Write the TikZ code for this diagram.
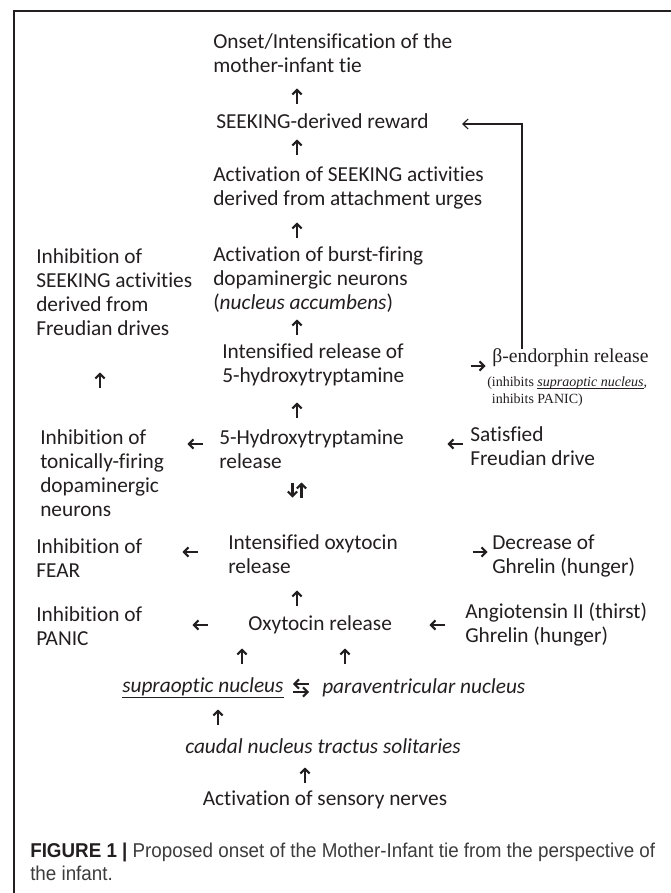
\documentclass[tikz,border=0pt]{standalone}
\usepackage{fontspec}
\setmainfont{Carlito}[Ligatures={NoCommon}]
\newfontfamily\timesf{Liberation Serif}
\newfontfamily\capf[FakeStretch=0.94]{Liberation Sans}
\usetikzlibrary{arrows.meta}
\definecolor{ink}{HTML}{231F20}
\definecolor{capink}{HTML}{3C3C3C}
\newcommand\myul[2][1.6pt]{\setbox0\hbox{#2}\rlap{\raisebox{-#1}{\rule{\wd0}{0.55pt}}}\box0}
\begin{document}
\begin{tikzpicture}[x=0.75pt,y=-0.75pt,
  txt/.style={font=\fontsize{16}{18}\selectfont, text=ink, inner sep=0pt, align=left, anchor=west},
  arr/.style={-{Straight Barb[length=3.4pt,width=7pt]}, line width=1.55pt, draw=ink},
  fbline/.style={-{Straight Barb[length=4pt,width=7.5pt]}, line width=0.85pt, draw=ink}]
\useasboundingbox (0,0) rectangle (671,893);
\fill[white] (0,0) rectangle (671,893);
\draw[line width=1pt, ink] (14,893) -- (14,11) -- (671,11);

% main column
\node[txt] (tie) at (213,53.5) {Onset/Intensification of the\\mother-infant tie};
\node[txt] (reward) at (216,121) {SEEKING-derived reward};
\node[txt] (actseek) at (213,188) {Activation of SEEKING activities\\derived from attachment urges};
\node[txt] (burst) at (213,280) {Activation of burst-firing\\dopaminergic neurons\\(\textit{nucleus accumbens})};
\node[txt] (int5ht) at (222,364.5) {Intensified release of\\5-hydroxytryptamine};
\node[txt] (fiveht) at (219,449) {5-Hydroxytryptamine\\release};
\node[txt] (intoxy) at (228,554) {Intensified oxytocin\\release};
\node[txt] (oxy) at (248,625) {Oxytocin release};
\node[txt, font=\fontsize{16}{18}\selectfont\itshape] (supra) at (122,688) {\myul[4.2pt]{supraoptic nucleus}};
\node[txt, font=\fontsize{16}{18}\selectfont\itshape] (para) at (322,688) {paraventricular nucleus};
\node[txt, font=\fontsize{16}{18}\selectfont\itshape, anchor=center] (caudal) at (323,746) {caudal nucleus tractus solitaries};
\node[txt, anchor=center] (sensory) at (325,800) {Activation of sensory nerves};

% left column
\node[txt] (leftseek) at (36,292.5) {Inhibition of\\SEEKING activities\\derived from\\Freudian drives};
\node[txt] (tonic) at (40,473.5) {Inhibition of\\tonically-firing\\dopaminergic\\neurons};
\node[txt] (fear) at (36,558) {Inhibition of\\FEAR};
\node[txt] (panic) at (36,626.5) {Inhibition of\\PANIC};

% right column
\node[txt, font=\fontsize{14.8}{17}\timesf] (beta) at (492,358) {β-endorphin release};
\node[txt, font=\fontsize{10.5}{13}\timesf] (betanote) at (487,391.5) {(inhibits \myul{\textit{supraoptic nucleus}},\\\hspace*{3.5pt}inhibits PANIC)};
\node[txt] (satisfied) at (470,446) {Satisfied\\Freudian drive};
\node[txt] (ghrdec) at (492,556) {Decrease of\\Ghrelin (hunger)};
\node[txt] (angio) at (465,624.5) {Angiotensin II (thirst)\\Ghrelin (hunger)};

% caption
\node[inner sep=0pt, anchor=west, align=left, text=capink,
  font=\fontsize{15}{17.3}\capf] (caption) at (30,861.5)
  {{\color{ink}\bfseries FIGURE 1 |} Proposed onset of the Mother-Infant tie from the perspective of\\the infant.};

% short arrows: vertical (up)
\foreach \n/\x/\y in {a1/297/96, a2/297/147, a3/297/230, a4/297/327, a5/297/410,
                      a6/100/380, a7/297/598, a8/242/656, a9/345/656, a10/218/717, a11/305/775}{
  \coordinate (\n) at (\x,\y);
  \draw[arr] (\n) ++(0,7.5) -- ++(0,-15);
}
% down/up pair
\coordinate (du) at (297,490);
\draw[arr] (du) ++(-4.5,-7.5) -- ++(0,15);
\draw[arr] (du) ++(4.5,7.5) -- ++(0,-15);
% left arrows
\foreach \n/\x/\y in {l1/195/444, l2/455/444, l3/190/552, l4/200/625, l5/437/625}{
  \coordinate (\n) at (\x,\y);
  \draw[arr] (\n) ++(7.5,0) -- ++(-15,0);
}
% right arrows
\foreach \n/\x/\y in {r1/478/366, r2/480/552}{
  \coordinate (\n) at (\x,\y);
  \draw[arr] (\n) ++(-7.5,0) -- ++(15,0);
}
% exchange arrows between supraoptic and paraventricular
\coordinate (ex) at (301,688);
\draw[arr] (ex) ++(8,-4) -- ++(-16,0);
\draw[arr] (ex) ++(-8,4) -- ++(16,0);

% feedback connector from beta-endorphin to reward
\coordinate (fb) at (522,124);
\draw[fbline] (beta.north -| fb) -- (fb) -- (462,124);
\end{tikzpicture}
\end{document}
